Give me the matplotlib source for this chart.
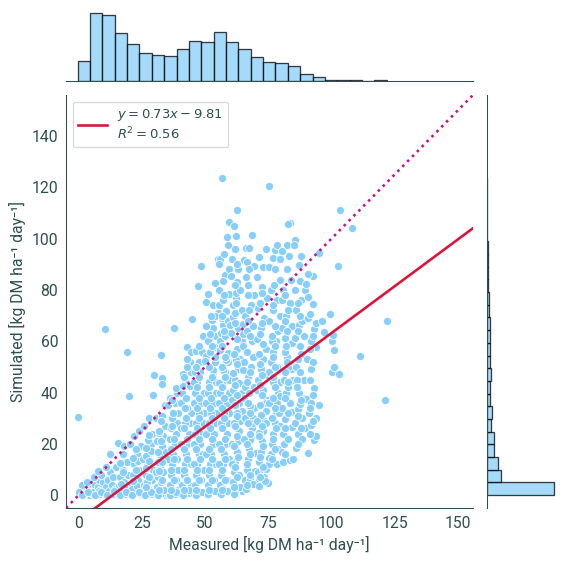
import numpy as np
import matplotlib
matplotlib.use("Agg")
import matplotlib.pyplot as plt

# scatter points (measured, simulated)
points = [
    # x 0-5
    (0.5, 0.5), (1, 2), (2, 0.3), (2.5, 1.5), (3, 3), (3.5, 0.8), (4, 2.2), (4.5, 0.2),
    (1.5, 4), (-0.4, 30.5), (4.8, 4.5), (3.2, 5.2), (0.2, 1.2), (1.8, 0.6),
    # x 5-10
    (5.5, 0.5), (6, 2), (6.5, 4), (7, 1), (7.5, 3), (8, 6), (8.5, 0.3), (9, 2.5),
    (9.5, 5), (6, 7), (9, 8), (7.5, 9.5), (5.2, 1.2), (8.2, 1.5),
    # x 10-15
    (10.5, 0.5), (11, 3), (11.5, 6), (12, 1.5), (12.5, 9), (13, 4), (13.5, 0.4), (14, 7),
    (14.5, 2.5), (11, 11), (14.8, 11), (12.6, 15.9), (10.4, 64.6), (13.4, 7.2),
    # x 15-20
    (15.5, 0.5), (16, 3.5), (16.5, 7), (17, 1.5), (17.5, 10), (18, 5), (18.5, 0.3), (19, 13),
    (19.5, 8), (15.5, 20.4), (16.5, 12.7), (17.5, 16), (19, 2.5), (19.2, 55.7), (20, 38.8),
    (18, 19),
    # x 20-25
    (20.5, 0.5), (21, 4), (21.5, 8), (22, 12), (22.5, 1.5), (23, 16), (23.5, 6), (24, 10),
    (24.5, 0.3), (20.5, 20), (23.3, 13.3), (24.5, 19), (22, 23), (24, 25), (21, 2.5), (23, 3.5),
    # x 25-30
    (25.5, 0.5), (26, 4), (26.5, 8), (27, 12), (27.5, 16), (28, 2), (28.5, 20), (29, 6),
    (29.5, 10), (25.5, 14), (26.6, 15.2), (28.6, 17.2), (27.3, 21.7), (29.2, 24), (26, 27),
    (28, 30), (29.5, 39.1), (25.5, 1.8), (29, 0.3), (27, 5),
    # x 30-35
    (30.5, 0.5), (31, 3), (31.5, 7), (32, 11), (32.5, 15), (33, 19), (33.5, 23), (34, 27),
    (34.5, 1.5), (30.5, 9), (31.5, 13), (32.5, 5), (33.5, 9), (34.5, 17), (31, 21), (30.5, 30),
    (33, 31), (34, 35), (31.9, 24.3), (32.7, 54.5), (32.9, 45.7), (32.9, 43.3), (29.9, 46.8),
    (34.5, 0.2), (33, 1),
    # x 35-40
    (35.5, 0.5), (36, 4), (36.5, 8), (37, 12), (37.5, 16), (38, 20), (38.5, 24), (39, 28),
    (39.5, 32), (35.5, 14), (36, 22), (37, 30), (38, 36), (39, 40), (36.5, 26), (38.5, 6),
    (39.5, 10), (35.5, 35), (37.8, 65), (38.5, 41.6), (39.5, 2), (37, 1.5), (38, 0.3),
    (36, 38), (39, 14),
    # x 40-45
    (40.5, 0.5), (41, 4), (41.5, 8), (42, 12), (42.5, 16), (43, 20), (43.5, 24), (44, 28),
    (44.5, 32), (40.5, 36), (41, 40), (42, 44), (43, 48), (44, 52), (41.4, 42.4), (44, 42.4),
    (41.4, 47.2), (44.6, 48.1), (42.7, 57.6), (44.6, 55.8), (43, 53), (44.8, 68.5), (40.5, 20),
    (42, 28), (43, 34), (44.5, 12), (40.5, 26), (41.5, 2), (43.5, 1), (44.5, 3.5), (42.5, 6),
    # x 45-50
    (45.5, 0.5), (46, 4), (46.5, 8), (47, 12), (47.5, 16), (48, 20), (48.5, 24), (49, 28),
    (49.5, 32), (45.5, 36), (46, 40), (47, 44), (48, 48), (49, 52), (45.5, 20), (46.5, 28),
    (47.5, 32), (48.5, 36), (49.5, 40), (45.5, 12), (47, 2), (48.5, 6), (49.5, 10), (46, 48),
    (47.5, 52), (46.4, 56.1), (48.8, 55.7), (49.3, 62), (47.1, 81.7), (48.5, 89.4), (46, 24),
    (49, 16), (45.5, 44),
    # x 50-55
    (50.5, 0.5), (51, 4), (51.5, 8), (52, 12), (52.5, 16), (53, 20), (53.5, 24), (54, 28),
    (54.5, 32), (50.5, 36), (51, 40), (52, 44), (53, 48), (54, 52), (51.7, 44.3), (53.1, 48.8),
    (50.4, 54.3), (50.1, 52.4), (54.1, 54), (53.8, 57.6), (52.1, 61.2), (53.3, 65.2),
    (52.8, 68.2), (55.2, 71.2), (51.3, 78.3), (50.5, 75.3), (53.8, 82.9), (50.5, 24),
    (51.5, 28), (52.5, 32), (53.5, 36), (54.5, 40), (50.5, 16), (52, 2), (53.5, 6), (54.5, 12),
    (51, 60), (53, 74), (54.5, 44), (52, 56), (50.5, 66), (54.5, 62), (55, 92), (54, 70),
    # x 55-60
    (55.5, 1), (56, 4), (56.5, 8), (57, 12), (57.5, 16), (58, 20), (58.5, 24), (59, 28),
    (59.5, 32), (55.5, 36), (56, 40), (57, 44), (58, 48), (59, 52), (55.7, 43.7), (57, 48.8),
    (58.1, 52.7), (59.2, 55.5), (56.1, 56.6), (56.3, 63.3), (57, 66.3), (56.6, 68.9),
    (58.2, 71.8), (55.7, 74.3), (59.4, 78.6), (58, 86), (57.3, 83.5), (56, 91.9), (55.7, 90.2),
    (58.9, 97.6), (58.5, 100.6), (59.6, 106.6), (56.7, 123.7), (55.5, 20), (56.5, 28),
    (57.5, 32), (58.5, 36), (59.5, 40), (55.5, 12), (59.6, 45), (56, 60), (58, 62), (59, 68),
    (57, 76), (55.5, 80), (59.5, 88), (57.5, 94), (58.5, 6), (59.5, 14), (57, 2.5),
    # x 60-65
    (60.5, 2), (61, 5), (61.5, 9), (62, 13), (62.5, 17), (63, 21), (63.5, 25), (64, 29),
    (64.5, 33), (60.5, 37), (61, 41), (62, 45), (63, 49), (64, 53), (61, 47.6), (65, 48.8),
    (63.6, 43.7), (62.3, 52.7), (62.7, 57), (60.3, 63.3), (59.9, 66.2), (61, 69.3),
    (61.9, 71.2), (62.4, 77), (62.2, 78.8), (62.8, 83.2), (60.2, 85.5), (62.4, 101),
    (61.6, 104.9), (62.8, 111.1), (60.5, 20), (61.5, 28), (62.5, 32), (63.5, 36), (64.5, 40),
    (60.5, 12), (64.5, 60), (63, 65), (61, 74), (64, 80), (60.5, 92), (63, 88), (62, 96),
    (64.5, 72), (63.5, 8), (64.5, 1.5), (62, 0.8),
    # x 65-70
    (65.5, 3), (66, 6), (66.5, 10), (67, 14), (67.5, 18), (68, 22), (68.5, 26), (69, 30),
    (69.5, 34), (65.5, 38), (66, 42), (67, 46), (68, 50), (69, 54), (65, 58.1), (65, 62.8),
    (65.2, 66.9), (66.3, 85), (65.3, 91.7), (66.3, 96.4), (67.3, 96.4), (68.4, 101.6),
    (66.7, 91), (69.2, 89.4), (67.6, 6.2), (69.6, 9.4), (67.6, 21.7), (68.9, 28.2),
    (67.6, 34.6), (70.2, 16.5), (66, 70), (68, 74), (69.5, 78), (67, 82), (65.5, 52),
    (68.5, 60), (66.5, 64), (69, 66), (67.5, 88), (66, 30), (69.5, 42), (65.5, 22),
    # x 70-75
    (70.5, 5), (71, 9), (71.5, 13), (72, 17), (72.5, 21), (73, 25), (73.5, 29), (74, 33),
    (74.5, 37), (70.5, 41), (71, 45), (72, 49), (73, 53), (74, 57), (71.5, 6.5), (73.5, 7.2),
    (72.9, 10.1), (74.2, 10.1), (71.5, 24.3), (72.2, 31.4), (74.2, 35.9), (74.2, 28.2),
    (75.1, 4.7), (70.5, 61), (72, 65), (73.5, 69), (71, 73), (74.5, 77), (72.5, 81),
    (70.5, 85), (73, 89), (71.5, 93), (74, 96), (75.5, 88.9), (75.5, 120.4), (70.5, 29),
    (73, 41), (74.5, 47), (71.5, 55),
    # x 75-80
    (75.5, 12), (76, 16), (76.5, 20), (77, 24), (77.5, 28), (78, 32), (78.5, 36), (79, 40),
    (79.5, 44), (75.5, 48), (76, 52), (77, 56), (78, 60), (79, 64), (75.3, 14.6), (78.8, 18.1),
    (78.3, 12), (79.5, 27.1), (79.1, 32.1), (79.5, 38.5), (76.7, 92.5), (77.6, 95.6),
    (78.3, 97.6), (79.6, 92), (75.5, 68), (77, 72), (78.5, 76), (76, 80), (79.5, 84),
    (77.5, 88), (75.5, 36), (77, 44), (78.5, 50), (76.5, 60), (79.5, 70),
    # x 80-85
    (80.7, 13.1), (81.1, 20), (81.5, 29.7), (83.5, 35.9), (84.1, 32.6), (84.4, 26.5),
    (83.7, 13.6), (84.8, 14), (82.3, 97.6), (83.5, 106.1), (82.7, 105.7), (80.4, 95.2),
    (83.1, 93.1), (84.5, 59.4), (81.6, 61.1), (82.4, 54), (81.1, 45), (84.4, 49.3), (84.8, 45),
    (80.5, 17), (81, 24), (82, 40), (83, 50), (80.5, 65), (82, 70), (83.5, 75), (81, 80),
    (84, 84), (82.5, 88), (80.5, 34), (83, 42), (84.5, 66), (81.5, 56), (80.5, 76),
    # x 85-90
    (86.1, 18.5), (86.6, 23.9), (86.8, 33.7), (87.4, 35.5), (85.4, 99.6), (85.2, 97.6),
    (87.8, 93.3), (87, 89.8), (87.4, 83.5), (89.4, 79.8), (89, 62), (87.2, 66.3), (85.4, 61.1),
    (88, 55), (86, 50), (89, 45), (87, 40), (85.5, 28), (88.5, 30), (89.5, 38), (86, 72),
    (88, 76), (85.5, 80), (90.1, 37.5), (88.5, 22), (89.5, 26), (86.5, 45), (88.5, 68),
    # x 90-95
    (90.6, 16.3), (91.8, 27.5), (93, 21.7), (93.1, 41.7), (91.8, 49.1), (93.8, 57.6),
    (91.7, 57), (93.3, 64.9), (93.8, 67), (96.1, 68), (96.9, 63.8), (90.9, 68.9), (91.4, 70.8),
    (92.7, 74.7), (90.7, 77.3), (90.1, 82.4), (92.7, 85.3), (90.7, 86.3), (95, 94.6),
    (91, 32), (92, 36), (94, 30), (90.5, 53),
    # x 95 and up
    (99.3, 70.8), (100.1, 60.2), (100.5, 62.3), (100.9, 56.5), (100.1, 48.1), (102.9, 47.2),
    (100.9, 50.1), (102.5, 89.4), (103.3, 111.1), (95, 35), (94, 23), (108, 104.1),
    (111.2, 54.3), (121.9, 67.8), (121.2, 37.1),
    # bottom strip, near zero simulated
    (1.2, 0.1), (3.7, 1.1), (6.3, 0.2), (8.8, 1.3), (11.3, 0.1), (13.8, 1.8), (16.2, 0.2),
    (18.7, 1.1), (21.3, 0.2), (23.8, 1.2), (26.2, 0.1), (28.7, 1.4), (31.3, 0.1), (33.8, 2.2),
    (36.3, 0.1), (38.7, 1.1), (41.2, 0.2), (43.7, 2.1), (46.3, 0.1), (48.7, 1.2), (51.2, 0.3),
    (53.8, 1.8), (56.3, 0.4), (58.8, 1.6), (61.3, 0.6), (63.8, 3.2), (66.3, 2.5), (68.8, 4.3),
    (71.2, 3.5), (73.8, 5.5),
    # dense core, second pass
    (16.8, 4.5), (17.6, 9), (21.6, 5.5), (22.8, 10), (21.7, 14.5), (22.6, 18),
    (26.7, 3), (27.8, 7), (26.6, 10.5), (27.9, 13.5), (26.8, 18.5), (27.7, 23.5),
    (31.6, 2), (32.8, 6), (31.7, 9.5), (32.9, 13), (31.5, 17), (32.6, 21), (31.8, 25), (32.4, 29),
    (36.6, 2), (37.8, 6), (36.7, 10), (37.9, 14), (36.5, 18), (37.7, 22), (36.8, 27),
    (37.5, 32), (36.9, 37),
    (41.6, 2), (42.8, 6), (41.7, 10), (42.9, 14), (41.5, 18), (42.7, 22), (41.8, 26),
    (42.6, 30), (41.9, 34), (42.5, 38), (41.7, 46), (42.8, 50),
    (46.6, 2), (47.8, 6), (46.7, 10), (47.9, 14), (46.5, 18), (47.7, 22), (46.8, 26),
    (47.6, 30), (46.9, 34), (47.5, 38), (46.7, 42), (47.8, 46), (46.6, 50), (47.7, 58),
    (51.6, 2), (52.8, 6), (51.7, 10), (52.9, 14), (51.5, 18), (52.7, 22), (51.8, 26),
    (52.6, 30), (51.9, 34), (52.5, 38), (51.7, 42), (52.8, 46), (51.6, 50), (52.7, 58),
    (51.9, 63), (52.4, 70),
    (56.6, 2), (57.8, 6), (56.7, 10), (57.9, 14), (56.5, 18), (57.7, 22), (56.8, 26),
    (57.6, 30), (56.9, 34), (57.5, 38), (56.7, 42), (57.8, 46), (56.6, 50), (57.7, 54),
    (56.9, 58), (57.4, 64), (56.8, 70), (57.6, 78),
    (61.6, 3), (62.8, 7), (61.7, 11), (62.9, 15), (61.5, 19), (62.7, 23), (61.8, 27),
    (62.6, 31), (61.9, 35), (62.5, 39), (61.7, 43), (62.8, 51), (61.6, 55), (62.7, 61),
    (61.9, 67), (62.4, 75), (61.8, 82), (62.6, 90),
    (66.6, 4), (67.8, 8), (66.7, 12), (67.9, 16), (66.5, 20), (67.7, 24), (66.8, 28),
    (67.6, 32), (66.9, 36), (67.5, 40), (66.7, 44), (67.8, 48), (66.6, 56), (67.7, 62),
    (66.9, 68), (67.4, 72), (66.8, 78),
    (71.6, 7), (72.8, 11), (71.7, 15), (72.9, 19), (71.5, 23), (72.7, 27), (71.8, 35),
    (72.6, 39), (71.9, 43), (72.5, 47), (71.7, 51), (72.8, 59), (71.6, 63), (72.7, 67),
    (71.9, 75), (72.4, 79),
    (76.6, 14), (77.8, 18), (76.7, 22), (77.9, 26), (76.5, 30), (77.7, 34), (76.8, 38),
    (77.6, 42), (76.9, 46), (77.5, 50), (76.7, 54), (77.8, 58), (76.6, 62), (77.7, 66),
    (76.9, 74), (77.4, 82),
    (81.6, 16), (82.8, 22), (81.7, 26), (82.9, 32), (81.5, 38), (82.7, 44), (81.8, 48),
    (82.6, 52), (81.9, 58), (82.5, 64), (81.7, 68), (82.8, 72), (81.6, 78),
    (86.6, 20), (87.8, 26), (86.7, 31), (87.9, 37), (86.5, 42), (87.7, 48), (86.8, 53),
    (87.6, 58), (86.9, 64), (87.5, 70), (86.7, 75),
    (91.6, 24), (92.8, 29), (91.7, 34), (92.9, 39), (91.5, 45), (92.7, 52), (91.8, 60),
    (92.6, 62),
]
measured = [p[0] for p in points]
simulated = [p[1] for p in points]

# marginal histogram counts
measured_counts = [64, 212, 206, 149, 116, 89, 83, 77, 99, 124, 121, 155, 121,
                   99, 74, 61, 58, 48, 23, 11, 4, 2, 2, 0, 2]
measured_range = (-0.4, 121.9)
simulated_counts = [940, 195, 157, 95, 95, 62, 71, 38, 38, 57, 38, 38, 38,
                    43, 29, 29, 10, 10, 10, 10, 4, 3, 2, 1, 2]
simulated_range = (0.0, 123.7)

slope, intercept, r2 = 0.73, -9.81, 0.56

ink = '#2f4f4f'
plt.rcParams['font.family'] = ['Roboto', 'Noto Sans', 'DejaVu Sans']
plt.rcParams['mathtext.fontset'] = 'dejavusans'
plt.rcParams['text.color'] = ink
plt.rcParams['axes.labelcolor'] = ink
plt.rcParams['xtick.color'] = ink
plt.rcParams['ytick.color'] = ink

W = 566.0
fig = plt.figure(figsize=(6, 6), dpi=W / 6)
ax = fig.add_axes([66 / W, 1 - 508 / W, (473 - 66) / W, (508 - 95) / W])
axx = fig.add_axes([66 / W, 1 - 81 / W, (473 - 66) / W, 71 / W], sharex=ax)
axy = fig.add_axes([487 / W, 1 - 508 / W, 70 / W, (508 - 95) / W], sharey=ax)

lims = (-5, 156)
ax.scatter(measured, simulated, s=38, color='#87cefa', edgecolor='white', linewidth=0.6, zorder=2)
ax.plot(lims, lims, ls=':', color='#c71585', lw=2, zorder=3)
xl = np.array(lims)
ax.plot(xl, slope * xl + intercept, color='#dc143c', lw=2, zorder=4,
        label='$y = %.2fx - %.2f$\n$R^2 = %.2f$' % (slope, -intercept, r2))
ax.set_xlim(lims)
ax.set_ylim(lims)
ax.set_xticks([0, 25, 50, 75, 100, 125, 150])
ax.set_yticks(range(0, 141, 20))
ax.tick_params(length=0, labelsize=12, pad=6)
ax.set_xlabel('Measured [kg DM ha⁻¹ day⁻¹]', fontsize=12)
ax.set_ylabel('Simulated [kg DM ha⁻¹ day⁻¹]', fontsize=12)
for s in ['top', 'right']:
    ax.spines[s].set_visible(False)
for s in ['left', 'bottom']:
    ax.spines[s].set_color(ink)
leg = ax.legend(loc='upper left', fontsize=10, frameon=True, fancybox=True, handlelength=2.2)
leg.get_frame().set_edgecolor('#d0d0d0')

xe = np.linspace(measured_range[0], measured_range[1], len(measured_counts) + 1)
axx.bar(xe[:-1], measured_counts, width=np.diff(xe), align='edge', color='#87cefa',
        alpha=0.75, edgecolor='black', linewidth=1)
axx.set_ylim(0, max(measured_counts) * 1.05)
ye = np.linspace(simulated_range[0], simulated_range[1], len(simulated_counts) + 1)
axy.barh(ye[:-1], simulated_counts, height=np.diff(ye), align='edge', color='#87cefa',
         alpha=0.75, edgecolor='black', linewidth=1)
axy.set_xlim(0, max(simulated_counts) * 1.05)

for a in (axx, axy):
    a.tick_params(length=0, labelbottom=False, labelleft=False)
    for s in a.spines.values():
        s.set_visible(False)
axx.set_yticks([])
axy.set_xticks([])
axx.spines['bottom'].set_visible(True)
axx.spines['bottom'].set_color(ink)
axy.spines['left'].set_visible(True)
axy.spines['left'].set_color(ink)

fig.savefig('out.png', dpi=W / 6)
